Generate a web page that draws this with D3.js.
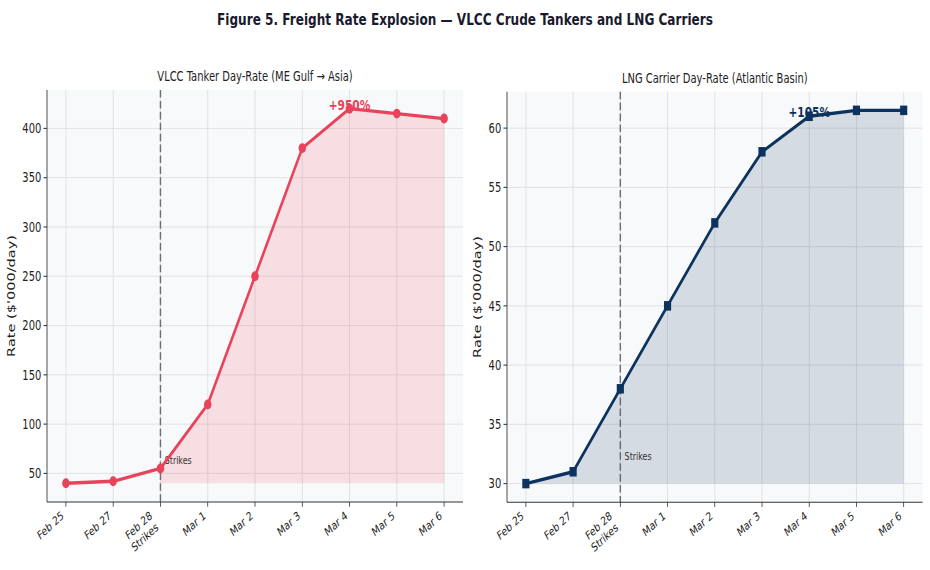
<!DOCTYPE html>
<html><head><meta charset="utf-8">
<script src="https://cdn.jsdelivr.net/npm/d3@7"></script>
<style>
html,body{margin:0;padding:0;background:#fff;}
svg{display:block;}
text{font-family:"DejaVu Sans",sans-serif;}
</style></head>
<body>
<script>
// ---- data ----
const categories = ["Feb 25","Feb 27","Feb 28\nStrikes","Mar 1","Mar 2","Mar 3","Mar 4","Mar 5","Mar 6"];
const vlccRates = [40, 42, 55, 120, 250, 380, 420, 415, 410];
const lngRates  = [30, 31, 38, 45, 52, 58, 61, 61.5, 61.5];
const vlccTicks = [50, 100, 150, 200, 250, 300, 350, 400];
const lngTicks  = [30, 35, 40, 45, 50, 55, 60];
const strikeIndex = 2;
const peakIndex = 6;
const vlccChangeLabel = "+950%";
const lngChangeLabel = "+105%";

// ---- canvas (original figure coordinates, displayed squeezed into 930x570) ----
const W = 1300, H = 600;
const svg = d3.select("body").append("svg")
  .attr("width", 930).attr("height", 570)
  .attr("viewBox", `0 0 ${W} ${H}`)
  .attr("preserveAspectRatio", "none");

svg.append("text").attr("x", 650).attr("y", 26).attr("text-anchor","middle")
  .attr("font-size", 16.9).attr("font-weight","bold").attr("fill","#1a1a2e")
  .text("Figure 5. Freight Rate Explosion — VLCC Crude Tankers and LNG Carriers");

const panels = [
  {title:"VLCC Tanker Day-Rate (ME Gulf → Asia)", values:vlccRates, ticks:vlccTicks,
   color:"#e8435a", marker:"circle", fillFrom:strikeIndex, label:vlccChangeLabel,
   box:{x0:65.7, x1:647.2, y0:94.7, y1:528.4}, ylabX:21, strikeFrac:0.092},
  {title:"LNG Carrier Day-Rate (Atlantic Basin)", values:lngRates, ticks:lngTicks,
   color:"#0c325e", marker:"square", fillFrom:0, label:lngChangeLabel,
   box:{x0:708.7, x1:1289.6, y0:96.5, y1:528.7}, ylabX:673, strikeFrac:0.103}
];

panels.forEach(p => {
  const b = p.box;
  const g = svg.append("g");
  const ext = d3.extent(p.values);
  const pad = (ext[1]-ext[0])*0.05;
  const x = d3.scaleLinear().domain([-0.4, categories.length-1+0.4]).range([b.x0, b.x1]);
  const y = d3.scaleLinear().domain([ext[0]-pad, ext[1]+pad]).range([b.y1, b.y0]);
  const idx = d3.range(categories.length);

  g.append("rect").attr("x", b.x0).attr("y", b.y0).attr("width", b.x1-b.x0).attr("height", b.y1-b.y0)
    .attr("fill", "#f8f9fb");

  // grid
  g.selectAll(".gx").data(idx).join("line")
    .attr("x1", d=>x(d)).attr("x2", d=>x(d)).attr("y1", b.y0).attr("y2", b.y1)
    .attr("stroke", "#dcdde0").attr("stroke-width", 1);
  g.selectAll(".gy").data(p.ticks).join("line")
    .attr("x1", b.x0).attr("x2", b.x1).attr("y1", d=>y(d)).attr("y2", d=>y(d))
    .attr("stroke", "#dcdde0").attr("stroke-width", 1);

  // fill
  const base = ext[0];
  const fillIdx = idx.filter(i => i >= p.fillFrom);
  const area = d3.area().x(i=>x(i)).y0(y(base)).y1(i=>y(p.values[i]));
  g.append("path").datum(fillIdx).attr("d", area).attr("fill", p.color).attr("fill-opacity", 0.15);

  // strike line
  g.append("line").attr("x1", x(strikeIndex)).attr("x2", x(strikeIndex)).attr("y1", b.y0).attr("y2", b.y1)
    .attr("stroke", "#555a66").attr("stroke-width", 2).attr("stroke-dasharray", "8,3.5").attr("opacity", 0.85);
  g.append("text").attr("x", x(strikeIndex)+6).attr("y", b.y1 - p.strikeFrac*(b.y1-b.y0))
    .attr("font-size", 11.1).attr("fill", "#333").text("Strikes");

  // line
  const line = d3.line().x(i=>x(i)).y(i=>y(p.values[i]));
  g.append("path").datum(idx).attr("d", line).attr("fill","none")
    .attr("stroke", p.color).attr("stroke-width", 3.5).attr("stroke-linejoin","round");
  if (p.marker === "circle") {
    g.selectAll(".m").data(idx).join("circle")
      .attr("cx", i=>x(i)).attr("cy", i=>y(p.values[i])).attr("r", 5.2).attr("fill", p.color);
  } else {
    g.selectAll(".m").data(idx).join("rect")
      .attr("x", i=>x(i)-5).attr("y", i=>y(p.values[i])-5).attr("width", 10).attr("height", 10)
      .attr("fill", p.color);
  }

  // change label
  g.append("text").attr("x", x(peakIndex)).attr("y", y(p.values[peakIndex]) + 1)
    .attr("text-anchor","middle").attr("font-size", 14.8).attr("font-weight","bold")
    .attr("fill", p.color).text(p.label);

  // spines
  g.append("line").attr("x1", b.x0).attr("x2", b.x0).attr("y1", b.y0).attr("y2", b.y1)
    .attr("stroke", "#333").attr("stroke-width", 1.2);
  g.append("line").attr("x1", b.x0).attr("x2", b.x1).attr("y1", b.y1).attr("y2", b.y1)
    .attr("stroke", "#333").attr("stroke-width", 1.2);

  // y ticks
  p.ticks.forEach(t => {
    g.append("line").attr("x1", b.x0-4.9).attr("x2", b.x0).attr("y1", y(t)).attr("y2", y(t))
      .attr("stroke", "#333").attr("stroke-width", 1.1);
    g.append("text").attr("x", b.x0-8).attr("y", y(t)).attr("dy","0.36em")
      .attr("text-anchor","end").attr("font-size", 13.9).attr("fill","#222").text(t);
  });
  // x ticks
  idx.forEach(i => {
    g.append("line").attr("x1", x(i)).attr("x2", x(i)).attr("y1", b.y1).attr("y2", b.y1+4.9)
      .attr("stroke", "#333").attr("stroke-width", 1.1);
    const lines = categories[i].split("\n");
    const fs = 12.5, lh = fs*1.2;
    const extra = (lines.length-1)*lh;
    const s = Math.sin(35*Math.PI/180), c = Math.cos(35*Math.PI/180);
    const ax = x(i) - 2 - s*extra;
    const ay = b.y1 + 4.9 + 3.5 + c*fs*0.76;
    const t = g.append("text").attr("transform", `translate(${ax},${ay}) rotate(-35)`)
      .attr("text-anchor","end").attr("font-size", fs).attr("fill","#222");
    lines.forEach((l, k) => t.append("tspan").attr("x", 0).attr("dy", k===0 ? 0 : lh).text(l));
  });

  // y label
  g.append("text").attr("transform", `translate(${p.ylabX},${(b.y0+b.y1)/2}) rotate(-90)`)
    .attr("text-anchor","middle").attr("font-size", 15.3).attr("fill","#222")
    .text("Rate ($'000/day)");

  // title
  g.append("text").attr("x", (b.x0+b.x1)/2).attr("y", b.y0 - 9)
    .attr("text-anchor","middle").attr("font-size", 13.9).attr("fill","#222").text(p.title);
});
</script>
</body></html>
